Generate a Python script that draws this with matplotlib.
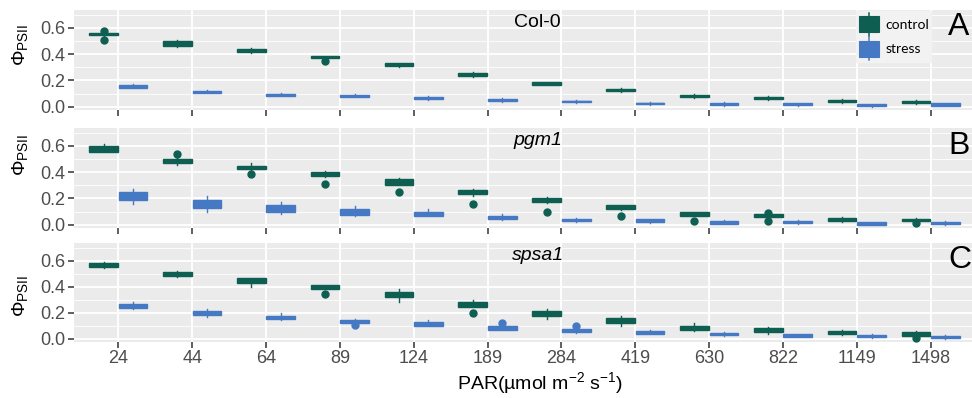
"""
Phi_PSII vs PAR for Col-0, pgm1 and spsa1: control vs stress boxplots,
three stacked panels in a ggplot-like style.
"""

import matplotlib
matplotlib.use("Agg")
import matplotlib.pyplot as plt
import numpy as np
from matplotlib.legend_handler import HandlerBase
from matplotlib.lines import Line2D
from matplotlib.patches import Patch, Rectangle

plt.rcParams["font.family"] = ["Liberation Sans", "DejaVu Sans"]
plt.rcParams["mathtext.fontset"] = "custom"
plt.rcParams["mathtext.rm"] = "Liberation Sans"
plt.rcParams["mathtext.it"] = "Liberation Sans:italic"

# ---------------------------------------------------------------- data
par_labels = ["24", "44", "64", "89", "124", "189", "284", "419",
              "630", "822", "1149", "1498"]
genotypes = ["Col-0", "pgm1", "spsa1"]
panel_letters = ["A", "B", "C"]

# Col-0 control
col0_ctrl_lo  = [0.540, 0.452, 0.405, 0.365, 0.305, 0.225, 0.162, 0.114, 0.068, 0.051, 0.030, 0.023]
col0_ctrl_q1  = [0.545, 0.465, 0.415, 0.368, 0.310, 0.230, 0.166, 0.118, 0.072, 0.055, 0.035, 0.028]
col0_ctrl_med = [0.553, 0.480, 0.428, 0.378, 0.320, 0.243, 0.176, 0.125, 0.080, 0.063, 0.045, 0.036]
col0_ctrl_q3  = [0.562, 0.498, 0.440, 0.385, 0.330, 0.255, 0.186, 0.135, 0.090, 0.073, 0.053, 0.045]
col0_ctrl_hi  = [0.568, 0.510, 0.448, 0.387, 0.336, 0.262, 0.190, 0.140, 0.095, 0.078, 0.058, 0.050]
col0_ctrl_out = [[0.578, 0.508], [], [], [0.344], [], [], [], [], [], [], [], []]
# Col-0 stress
col0_str_lo  = [0.140, 0.104, 0.078, 0.071, 0.053, 0.038, 0.028, 0.013, 0.008, 0.008, -0.002, 0.004]
col0_str_q1  = [0.145, 0.108, 0.083, 0.077, 0.058, 0.042, 0.033, 0.018, 0.013, 0.012, 0.003, 0.008]
col0_str_med = [0.155, 0.115, 0.090, 0.083, 0.065, 0.050, 0.040, 0.025, 0.022, 0.020, 0.010, 0.016]
col0_str_q3  = [0.165, 0.122, 0.097, 0.090, 0.072, 0.056, 0.047, 0.032, 0.030, 0.028, 0.018, 0.025]
col0_str_hi  = [0.172, 0.129, 0.104, 0.096, 0.078, 0.063, 0.053, 0.038, 0.038, 0.032, 0.023, 0.030]
col0_str_out = [[], [], [], [], [], [], [], [], [], [], [], []]

# pgm1 control
pgm1_ctrl_lo  = [0.550, 0.455, 0.414, 0.362, 0.299, 0.222, 0.163, 0.112, 0.064, 0.048, 0.023, 0.021]
pgm1_ctrl_q1  = [0.555, 0.470, 0.420, 0.370, 0.305, 0.230, 0.170, 0.118, 0.068, 0.058, 0.028, 0.025]
pgm1_ctrl_med = [0.575, 0.485, 0.435, 0.385, 0.330, 0.250, 0.185, 0.130, 0.080, 0.068, 0.040, 0.035]
pgm1_ctrl_q3  = [0.595, 0.500, 0.450, 0.400, 0.350, 0.265, 0.200, 0.148, 0.093, 0.078, 0.050, 0.045]
pgm1_ctrl_hi  = [0.610, 0.508, 0.466, 0.408, 0.358, 0.273, 0.209, 0.153, 0.100, 0.082, 0.056, 0.051]
pgm1_ctrl_out = [[], [0.534], [0.383], [0.312], [0.248], [0.158], [0.094], [0.066],
                 [0.031], [0.092, 0.028], [], [0.010]]
# pgm1 stress
pgm1_str_lo  = [0.159, 0.100, 0.080, 0.065, 0.064, 0.036, 0.021, 0.013, 0.002, 0.006, -0.004, -0.001]
pgm1_str_q1  = [0.185, 0.130, 0.100, 0.075, 0.070, 0.042, 0.025, 0.018, 0.008, 0.010, 0.000, 0.003]
pgm1_str_med = [0.210, 0.155, 0.120, 0.100, 0.085, 0.055, 0.035, 0.028, 0.018, 0.020, 0.008, 0.012]
pgm1_str_q3  = [0.245, 0.190, 0.148, 0.120, 0.100, 0.068, 0.045, 0.040, 0.030, 0.030, 0.018, 0.022]
pgm1_str_hi  = [0.273, 0.220, 0.175, 0.145, 0.120, 0.084, 0.051, 0.044, 0.033, 0.034, 0.023, 0.026]
pgm1_str_out = [[], [], [], [], [], [], [], [], [], [], [], []]

# spsa1 control
spsa1_ctrl_lo  = [0.540, 0.472, 0.400, 0.380, 0.285, 0.241, 0.150, 0.100, 0.059, 0.040, 0.028, 0.018]
spsa1_ctrl_q1  = [0.552, 0.485, 0.428, 0.385, 0.323, 0.246, 0.174, 0.118, 0.065, 0.055, 0.033, 0.024]
spsa1_ctrl_med = [0.570, 0.500, 0.450, 0.395, 0.340, 0.265, 0.190, 0.140, 0.085, 0.070, 0.048, 0.038]
spsa1_ctrl_q3  = [0.583, 0.513, 0.465, 0.410, 0.357, 0.280, 0.210, 0.158, 0.100, 0.085, 0.062, 0.050]
spsa1_ctrl_hi  = [0.587, 0.518, 0.469, 0.415, 0.382, 0.300, 0.228, 0.175, 0.120, 0.090, 0.067, 0.056]
spsa1_ctrl_out = [[], [], [], [0.344], [], [0.200], [], [], [], [], [], [0.005]]
# spsa1 stress
spsa1_str_lo  = [0.228, 0.170, 0.146, 0.118, 0.097, 0.067, 0.046, 0.033, 0.021, 0.010, 0.008, -0.002]
spsa1_str_q1  = [0.235, 0.183, 0.150, 0.122, 0.100, 0.070, 0.050, 0.038, 0.025, 0.014, 0.012, 0.005]
spsa1_str_med = [0.250, 0.195, 0.163, 0.135, 0.112, 0.083, 0.060, 0.048, 0.035, 0.025, 0.022, 0.015]
spsa1_str_q3  = [0.268, 0.210, 0.178, 0.145, 0.127, 0.095, 0.073, 0.060, 0.046, 0.034, 0.032, 0.024]
spsa1_str_hi  = [0.283, 0.228, 0.195, 0.149, 0.145, 0.100, 0.077, 0.064, 0.051, 0.038, 0.036, 0.028]
spsa1_str_out = [[], [], [], [0.108], [], [0.118], [0.095], [], [], [], [], []]

# ---------------------------------------------------------------- style
CTRL_COLOR = "#0E5E52"
STRESS_COLOR = "#4679C4"
PANEL_BG = "#EBEBEB"
TICK_COLOR = "#333333"
LABEL_COLOR = "#4D4D4D"

W, H = 972, 398
# panel rectangles in pixels: (left, top, right, bottom)
PANELS_PX = [(74, 10, 975, 110), (74, 128, 975, 228), (74, 243, 975, 342)]
YLABEL_Y_PX = [45, 155, 296]
LETTER_Y_PX = [27, 146, 260]


def _stats(lo, q1, med, q3, hi, out):
    return [dict(whislo=a, q1=b, med=c, q3=d, whishi=e, fliers=f)
            for a, b, c, d, e, f in zip(lo, q1, med, q3, hi, out)]


class BoxKeyHandler(HandlerBase):
    """ggplot-style boxplot legend key: filled box with a whisker line."""

    def create_artists(self, legend, orig_handle, xdescent, ydescent,
                       width, height, fontsize, trans):
        color = orig_handle.get_facecolor()
        x0, y0 = -xdescent, -ydescent
        rect = Rectangle((x0 + 0.04 * width, y0 + 0.14 * height),
                         0.92 * width, 0.72 * height,
                         facecolor=color, edgecolor=color, lw=0.8,
                         transform=trans)
        line = Line2D([x0 + width / 2, x0 + width / 2],
                      [y0 - 0.02 * height, y0 + 1.02 * height],
                      color=color, lw=1.1, transform=trans)
        return [line, rect]


def _draw_panel(ax, ctrl, stress):
    ax.set_facecolor(PANEL_BG)
    x = np.arange(len(par_labels))
    common = dict(widths=0.39, patch_artist=True, showcaps=False,
                  manage_ticks=False, zorder=3)
    for stats, pos, color in ((ctrl, x - 0.2, CTRL_COLOR),
                              (stress, x + 0.2, STRESS_COLOR)):
        ax.bxp(stats, positions=pos,
               boxprops=dict(facecolor=color, edgecolor=color, linewidth=1.0),
               medianprops=dict(color=color, linewidth=1.0),
               whiskerprops=dict(color=color, linewidth=1.0),
               flierprops=dict(marker="o", markerfacecolor=color,
                               markeredgecolor=color, markersize=5),
               **common)

    ax.set_xlim(-0.6, len(par_labels) - 0.4)
    ax.set_ylim(-0.025, 0.735)
    ax.set_xticks(x)
    ax.set_yticks([0.0, 0.2, 0.4, 0.6])
    ax.set_yticklabels(["0.0", "0.2", "0.4", "0.6"])
    ax.set_yticks([0.1, 0.3, 0.5, 0.7], minor=True)
    ax.grid(True, which="major", color="white", linewidth=1.3, zorder=0)
    ax.grid(True, which="minor", axis="y", color="white", linewidth=0.6, zorder=0)
    ax.set_axisbelow(True)
    for sp in ax.spines.values():
        sp.set_visible(False)
    ax.tick_params(axis="both", which="major", length=4, width=1.1,
                   color=TICK_COLOR, labelcolor=LABEL_COLOR, labelsize=13, pad=2)
    ax.tick_params(axis="y", which="minor", length=0)


def main():
    fig = plt.figure(figsize=(W / 100, H / 100), dpi=100)

    data = [
        (_stats(col0_ctrl_lo, col0_ctrl_q1, col0_ctrl_med, col0_ctrl_q3, col0_ctrl_hi, col0_ctrl_out),
         _stats(col0_str_lo, col0_str_q1, col0_str_med, col0_str_q3, col0_str_hi, col0_str_out)),
        (_stats(pgm1_ctrl_lo, pgm1_ctrl_q1, pgm1_ctrl_med, pgm1_ctrl_q3, pgm1_ctrl_hi, pgm1_ctrl_out),
         _stats(pgm1_str_lo, pgm1_str_q1, pgm1_str_med, pgm1_str_q3, pgm1_str_hi, pgm1_str_out)),
        (_stats(spsa1_ctrl_lo, spsa1_ctrl_q1, spsa1_ctrl_med, spsa1_ctrl_q3, spsa1_ctrl_hi, spsa1_ctrl_out),
         _stats(spsa1_str_lo, spsa1_str_q1, spsa1_str_med, spsa1_str_q3, spsa1_str_hi, spsa1_str_out)),
    ]

    axes = []
    for i, (l, t, r, b) in enumerate(PANELS_PX):
        ax = fig.add_axes([l / W, 1 - b / H, (r - l) / W, (b - t) / H])
        ctrl, stress = data[i]
        _draw_panel(ax, ctrl, stress)
        if i < 2:
            ax.set_xticklabels([])
        else:
            ax.set_xticklabels(par_labels)
        style = "normal" if i == 0 else "italic"
        ax.text(5.68, 0.64, genotypes[i], fontsize=14, style=style,
                ha="center", va="center", zorder=5)
        fig.text(20 / W, 1 - YLABEL_Y_PX[i] / H, r"$\Phi_{\mathrm{PSII}}$",
                 rotation=90, ha="center", va="center", fontsize=14)
        fig.text(948 / W, 1 - LETTER_Y_PX[i] / H, panel_letters[i],
                 fontsize=23, ha="left", va="center")
        axes.append(ax)

    fig.text(540 / W, 1 - 383 / H, r"PAR(µmol m$^{-2}$ s$^{-1}$)",
             ha="center", va="center", fontsize=14, color="black")

    handles = [Patch(facecolor=CTRL_COLOR, label="control"),
               Patch(facecolor=STRESS_COLOR, label="stress")]
    leg = axes[0].legend(handles=handles, loc="upper left",
                         bbox_to_anchor=(856 / W, 1 - 11 / H),
                         bbox_transform=fig.transFigure,
                         handler_map={Patch: BoxKeyHandler()},
                         prop={"family": "Lato", "size": 10},
                         handlelength=1.6, handleheight=2.1,
                         labelspacing=0.15, handletextpad=0.35,
                         borderpad=0.15, borderaxespad=0,
                         frameon=True, fancybox=False)
    leg.get_frame().set_facecolor("#F2F2F2")
    leg.get_frame().set_edgecolor("#F2F2F2")
    leg.get_frame().set_alpha(1)
    leg.set_zorder(6)

    fig.savefig("out.png", dpi=100)


if __name__ == "__main__":
    main()
